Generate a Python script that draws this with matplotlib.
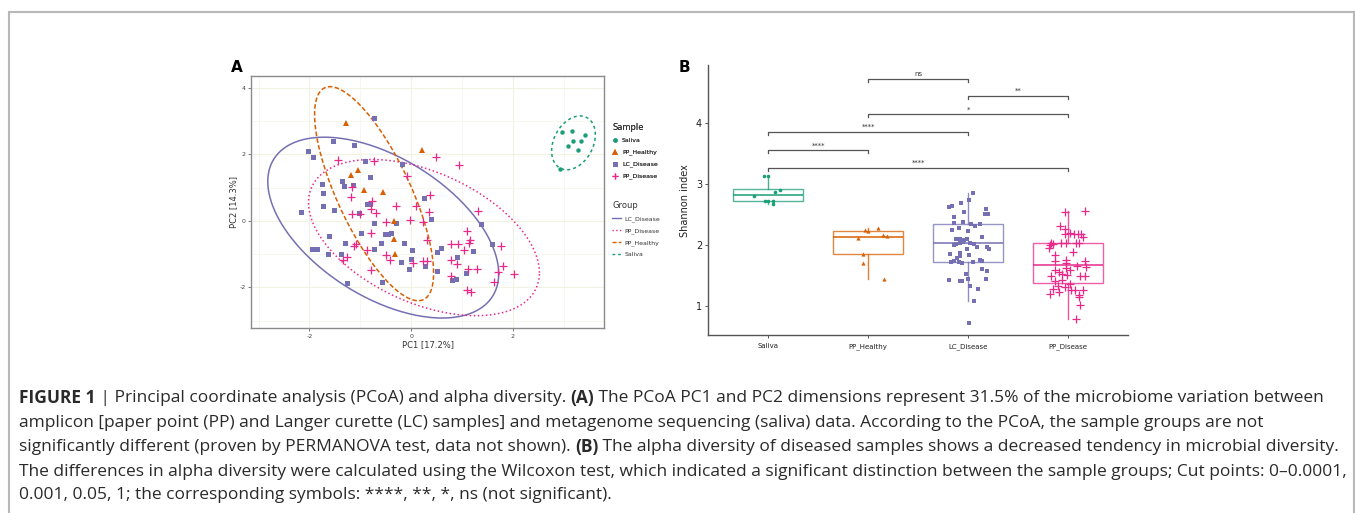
import numpy as np
import matplotlib
matplotlib.use('Agg')
import matplotlib.pyplot as plt
from matplotlib.lines import Line2D

plt.rcParams['axes.unicode_minus'] = False

# ---------------- data ----------------
groups = ['Saliva', 'PP_Healthy', 'LC_Disease', 'PP_Disease']
colors = {'Saliva': '#1B9E77', 'PP_Healthy': '#D95F02',
          'LC_Disease': '#7570B3', 'PP_Disease': '#E7298A'}

# Panel A: PCoA coordinates
saliva_pc1 = [2.97, 3.16, 3.42, 3.18, 3.33, 3.09, 3.28, 2.92]
saliva_pc2 = [2.69, 2.71, 2.59, 2.41, 2.41, 2.27, 2.13, 1.57]
pph_pc1 = [-1.28, 0.22, -1.18, -1.05, -0.93, -0.56, -0.34, -0.33, -0.31]
pph_pc2 = [2.94, 2.14, 1.39, 1.54, 0.92, 0.87, 0.00, -0.54, -0.99]
lc_pc1 = [-0.73, -1.53, -1.13, -2.03, -1.93, -0.90, -0.19, -0.81, -1.36, -1.76,
          -1.14, -1.33, -1.74, 0.25, -0.86, -0.81, -1.74, -1.52, -1.03, -0.74,
          -0.30, 0.38, 1.38, -2.17, -0.98, -0.52, -0.45, -0.39, -0.60, -0.15,
          -1.62, -1.30, -1.95, -1.85, -1.38, -0.73, 0.02, 0.58, 0.51, 1.21,
          1.59, -0.20, -0.01, 0.28, 0.50, 0.90, 1.07, 0.89, 0.80, -0.04,
          -1.26, -0.57, -1.64]
lc_pc2 = [3.09, 2.42, 2.29, 2.09, 1.91, 1.79, 1.71, 1.31, 1.19, 1.11,
          1.09, 1.04, 0.84, 0.69, 0.52, 0.52, 0.46, 0.32, 0.24, -0.05,
          -0.05, 0.06, -0.08, 0.26, -0.35, -0.39, -0.39, -0.36, -0.66, -0.66,
          -0.46, -0.65, -0.83, -0.84, -0.98, -0.84, -0.87, -0.80, -0.94, -0.91,
          -0.68, -1.23, -1.13, -1.36, -1.51, -1.08, -1.56, -1.74, -1.78, -1.44,
          -1.88, -1.83, -0.99]
ppd_pc1 = [0.48, 0.93, -1.44, -0.73, -0.09, -1.16, -1.19, 0.37, -0.78, -0.79,
           0.10, -0.29, -0.70, -1.17, -1.01, 0.34, 1.32, -0.49, -0.03, 0.23,
           -0.80, 0.31, 1.10, 0.79, 0.92, 1.13, 1.16, 1.77, -1.09, -1.12,
           -0.86, -0.49, -1.34, -1.27, -0.41, 0.23, 0.31, 0.03, 1.03, 0.79,
           0.90, 1.11, 1.30, 1.81, 1.71, 2.02, -0.80, 0.79, 1.62, 1.09, 1.17]
ppd_pc2 = [1.91, 1.69, 1.84, 1.79, 1.34, 1.01, 0.73, 0.79, 0.60, 0.37,
           0.46, 0.44, 0.24, 0.21, 0.22, 0.27, 0.29, -0.03, 0.04, -0.03,
           -0.35, -0.56, -0.31, -0.69, -0.69, -0.66, -0.58, -0.76, -0.69, -0.76,
           -0.88, -1.02, -1.17, -1.07, -1.18, -1.20, -1.20, -1.27, -0.88, -1.17,
           -1.29, -1.44, -1.44, -1.36, -1.54, -1.61, -1.47, -1.66, -1.84, -2.08, -2.14]

# Panel A: confidence ellipses (centre, half-extent in x / y, correlation)
ell_groups = ['LC_Disease', 'PP_Disease', 'PP_Healthy', 'Saliva']
ell_cx = [-0.55, 0.25, -0.73, 3.19]
ell_cy = [-0.20, -0.50, 0.82, 2.35]
ell_xhalf = [2.27, 2.27, 1.17, 0.43]
ell_yhalf = [2.72, 2.35, 3.22, 0.81]
ell_rho = [-0.51, -0.45, -0.74, 0.30]
ell_styles = ['-', ':', (0, (3, 1.5)), (0, (2, 2))]

# Panel B: Shannon index (jitter offset, value)
sal_dx = [-0.04, 0.0, 0.12, 0.07, -0.14, -0.03, 0.0, 0.05, 0.05]
sal_sh = [3.14, 3.14, 2.91, 2.87, 2.81, 2.72, 2.72, 2.73, 2.67]
pph_dx = [-0.10, -0.03, 0.0, 0.10, 0.15, 0.19, -0.05, -0.05, 0.16]
pph_sh = [2.12, 2.25, 2.24, 2.29, 2.17, 2.15, 1.86, 1.71, 1.44]
lc_dx = [0.05, 0.013, -0.067, -0.19, -0.16, -0.037, 0.177, -0.143, 0.173, 0.2,
         -0.143, -0.05, 0.027, 0.123, 0.07, -0.09, 0.0, -0.16, 0.143, -0.117,
         -0.077, -0.043, -0.01, -0.05, 0.023, -0.077, -0.12, -0.137, 0.063, 0.09,
         0.19, 0.207, -0.013, -0.177, -0.077, 0.007, 0.123, 0.14, -0.14, -0.087,
         -0.167, -0.06, 0.05, -0.113, 0.14, 0.19, -0.193, -0.083, -0.017, 0.0,
         -0.057, 0.183, 0.023, 0.097, 0.057, 0.007, -0.083]
lc_sh = [2.86, 2.74, 2.69, 2.63, 2.65, 2.55, 2.59, 2.47, 2.51, 2.51,
         2.36, 2.38, 2.35, 2.35, 2.31, 2.28, 2.24, 2.25, 2.13, 2.10,
         2.10, 2.09, 2.10, 2.05, 2.04, 2.03, 2.02, 2.00, 2.02, 1.98,
         1.98, 1.94, 1.94, 1.86, 1.88, 1.84, 1.76, 1.75, 1.74, 1.73,
         1.72, 1.71, 1.73, 1.80, 1.61, 1.58, 1.43, 1.42, 1.53, 1.45,
         1.41, 1.45, 1.33, 1.28, 1.09, 0.72, 1.83]
ppd_dx = [-0.033, 0.167, -0.083, -0.033, 0.017, 0.06, 0.1, 0.133, -0.027, 0.15,
          -0.173, -0.183, -0.15, -0.067, -0.017, 0.077, 0.11, -0.19, 0.05, -0.127,
          -0.02, -0.133, 0.167, -0.017, 0.09, 0.177, -0.127, -0.09, -0.023, 0.017,
          -0.167, -0.057, -0.01, 0.123, 0.167, -0.13, -0.06, 0.017, -0.1, -0.033,
          -0.15, 0.033, 0.15, 0.067, -0.18, -0.09, 0.107, 0.11, 0.117, 0.077]
ppd_sh = [2.54, 2.57, 2.31, 2.27, 2.20, 2.19, 2.19, 2.19, 2.19, 2.13,
          2.03, 2.01, 2.02, 2.03, 2.03, 2.03, 2.03, 1.95, 1.89, 1.84,
          1.76, 1.74, 1.74, 1.71, 1.66, 1.65, 1.60, 1.56, 1.62, 1.60,
          1.49, 1.53, 1.51, 1.50, 1.50, 1.41, 1.43, 1.37, 1.34, 1.32,
          1.28, 1.27, 1.27, 1.27, 1.21, 1.24, 1.19, 1.15, 1.02, 0.79]

# box statistics
box_q1 = [2.72, 1.86, 1.72, 1.38]
box_med = [2.82, 2.14, 2.03, 1.68]
box_q3 = [2.92, 2.23, 2.35, 2.04]
box_lo = [2.67, 1.44, 1.09, 0.80]
box_hi = [3.14, 2.29, 2.86, 2.57]

# significance brackets
br_left = [2, 3, 2, 1, 1, 1]
br_right = [3, 4, 4, 3, 2, 4]
br_y = [4.73, 4.45, 4.15, 3.86, 3.56, 3.27]
br_label = ['ns', '**', '*', '****', '****', '****']

caption_lines = [
    [("FIGURE 1", True), (" | Principal coordinate analysis (PCoA) and alpha diversity. ", False),
     ("(A)", True), (" The PCoA PC1 and PC2 dimensions represent 31.5% of the microbiome variation between", False)],
    [("amplicon [paper point (PP) and Langer curette (LC) samples] and metagenome sequencing (saliva) data. According to the PCoA, the sample groups are not", False)],
    [("significantly different (proven by PERMANOVA test, data not shown). ", False), ("(B)", True),
     (" The alpha diversity of diseased samples shows a decreased tendency in microbial diversity.", False)],
    [("The differences in alpha diversity were calculated using the Wilcoxon test, which indicated a significant distinction between the sample groups; Cut points: 0\u20130.0001,", False)],
    [("0.001, 0.05, 1; the corresponding symbols: ****, **, *, ns (not significant).", False)],
]

# ---------------- figure ----------------
W, H = 1355, 513
fig = plt.figure(figsize=(W / 100, H / 100), dpi=100)
fig.patch.set_facecolor('white')

def fax(l, t, r, b):
    return fig.add_axes([l / W, 1 - b / H, (r - l) / W, (b - t) / H])

# overlay for frame, letters, caption
ov = fig.add_axes([0, 0, 1, 1], zorder=-1)
ov.set_xlim(0, W); ov.set_ylim(H, 0); ov.axis('off')
ov.plot([9, 9, 1354, 1354], [H + 5, 12, 12, H + 5], color='#b8b8b8', lw=1.5,
        solid_joinstyle='miter')

# ---- Panel A ----
axA = fax(251, 75.7, 604, 328)
axA.set_xlim(-3.15, 3.79); axA.set_ylim(-3.22, 4.37)
axA.set_xticks([-2, 0, 2]); axA.set_yticks([-2, 0, 2, 4])
axA.set_xticks([-3, -1, 1, 3], minor=True); axA.set_yticks([-3, -1, 1, 3], minor=True)
axA.grid(True, which='major', color='#f1f1e4', lw=0.8)
axA.grid(True, which='minor', color='#f6f6ee', lw=0.6)
axA.set_axisbelow(True)
for s in axA.spines.values():
    s.set_color('#8a8a8a'); s.set_linewidth(1.0)
axA.tick_params(which='major', length=2, width=0.6, color='#666', labelsize=4.5,
                labelcolor='#444', pad=2)
axA.tick_params(which='minor', length=0)
axA.set_xlabel('PC1 [17.2%]', fontsize=6, color='#333', labelpad=1)
axA.set_ylabel('PC2 [14.3%]', fontsize=6, color='#333', labelpad=1)

t = np.linspace(0, 2 * np.pi, 300)
for g, cx, cy, a, b, r, ls in zip(ell_groups, ell_cx, ell_cy, ell_xhalf, ell_yhalf, ell_rho, ell_styles):
    ex = cx + a * np.cos(t)
    ey = cy + b * (r * np.cos(t) + np.sqrt(1 - r * r) * np.sin(t))
    axA.plot(ex, ey, color=colors[g], ls=ls, lw=1.1, zorder=2)

axA.plot(lc_pc1, lc_pc2, 's', color=colors['LC_Disease'], ms=3.6, mew=0, ls='none', zorder=3)
axA.plot(ppd_pc1, ppd_pc2, '+', color=colors['PP_Disease'], ms=6, mew=0.9, ls='none', zorder=3)
axA.plot(pph_pc1, pph_pc2, '^', color=colors['PP_Healthy'], ms=4.3, mew=0, ls='none', zorder=4)
axA.plot(saliva_pc1, saliva_pc2, 'o', color=colors['Saliva'], ms=3.2, mew=0, ls='none', zorder=4)

# legends for panel A
mk = {'Saliva': ('o', 3.2), 'PP_Healthy': ('^', 4.3), 'LC_Disease': ('s', 3.6), 'PP_Disease': ('+', 5)}
h1 = [Line2D([], [], marker=mk[g][0], ms=mk[g][1], color=colors[g], ls='none', mew=0.9 if g == 'PP_Disease' else 0)
      for g in groups]
leg1 = fig.legend(h1, groups, title='Sample', loc='upper left', bbox_to_anchor=(609 / W, 1 - 120 / H),
                  frameon=False, fontsize=4.5, title_fontsize=6, handlelength=1.0, handletextpad=0.6,
                  labelspacing=0.95, borderpad=0, alignment='left')
h2 = [Line2D([], [], color=colors[g], ls=ls, lw=1.0) for g, ls in zip(ell_groups, ell_styles)]
leg2 = fig.legend(h2, ell_groups, title='Group', loc='upper left', bbox_to_anchor=(609 / W, 1 - 198 / H),
                  frameon=False, fontsize=4.5, title_fontsize=6, handlelength=1.4, handletextpad=0.6,
                  labelspacing=0.95, borderpad=0, alignment='left')
for lg in (leg1, leg2):
    for tx in lg.get_texts():
        tx.set_color('#333')
    lg.get_title().set_color('#333')
fig.add_artist(leg1)

# ---- Panel B ----
axB = fax(708.3, 65, 1128, 335.3)
axB.set_xlim(0.4, 4.6); axB.set_ylim(0.525, 4.955)
for sp in ['top', 'right']:
    axB.spines[sp].set_visible(False)
for sp in ['left', 'bottom']:
    axB.spines[sp].set_color('#555'); axB.spines[sp].set_linewidth(1.0)
axB.set_xticks([1, 2, 3, 4]); axB.set_xticklabels(groups)
axB.set_yticks([1, 2, 3, 4])
axB.tick_params(axis='x', length=2.5, width=0.7, color='#555', labelsize=5, labelcolor='#222', pad=3)
axB.tick_params(axis='y', length=2.5, width=0.7, color='#555', labelsize=7, labelcolor='#222', pad=2)
axB.set_ylabel('Shannon index', fontsize=7, color='#222', labelpad=4)

stats = []
for i in range(4):
    stats.append(dict(q1=box_q1[i], med=box_med[i], q3=box_q3[i], whislo=box_lo[i], whishi=box_hi[i], fliers=[]))
bp = axB.bxp(stats, positions=[1, 2, 3, 4], widths=0.7, showfliers=False, showcaps=False,
             patch_artist=True, manage_ticks=False)
for i, g in enumerate(groups):
    c = colors[g]
    bp['boxes'][i].set(facecolor='white', linewidth=1.0)
    bp['boxes'][i].set_edgecolor(matplotlib.colors.to_rgba(c, 0.75))
    bp['medians'][i].set(color=c, linewidth=1.1)
    for w in bp['whiskers'][2 * i:2 * i + 2]:
        w.set(color=matplotlib.colors.to_rgba(c, 0.8), linewidth=1.0)

pos = {g: i + 1 for i, g in enumerate(groups)}
axB.plot(np.array(sal_dx) + pos['Saliva'], sal_sh, 'o', color=colors['Saliva'], ms=2.6, mew=0, ls='none', zorder=4)
axB.plot(np.array(pph_dx) + pos['PP_Healthy'], pph_sh, '^', color=colors['PP_Healthy'], ms=3.0, mew=0, ls='none', zorder=4)
axB.plot(np.array(lc_dx) + pos['LC_Disease'], lc_sh, 's', color=colors['LC_Disease'], ms=2.6, mew=0, ls='none', zorder=4)
axB.plot(np.array(ppd_dx) + pos['PP_Disease'], ppd_sh, '+', color=colors['PP_Disease'], ms=5.8, mew=0.9, ls='none', zorder=4)

for l, r, y, lab in zip(br_left, br_right, br_y, br_label):
    d = 0.05
    axB.plot([l, l, r, r], [y - d, y, y, y - d], color='#555', lw=0.9, zorder=3)
    axB.text((l + r) / 2, y + 0.03, lab, ha='center', va='bottom', fontsize=5, color='#333')

# ---- panel letters ----
ov.text(231, 68, 'A', fontsize=11, fontweight='bold', va='center', ha='left', color='black')
ov.text(679, 68, 'B', fontsize=11, fontweight='bold', va='center', ha='left', color='black')

# ---- caption ----
fig.canvas.draw()
renderer = fig.canvas.get_renderer()
cap_y = [398, 423, 447, 472, 495]
cap_font = 'Open Sans'
base = 10.0

def draw_caption(size, commit):
    widths = []
    for line, y in zip(caption_lines, cap_y):
        x = 19
        for txt, bold in line:
            tt = ov.text(x, y, txt, fontsize=size, fontfamily=cap_font,
                         fontweight='bold' if bold else 'normal', color='#2a2a2a',
                         va='center', ha='left')
            x += tt.get_window_extent(renderer).width
            if not commit:
                tt.remove()
        widths.append(x - 19)
    return widths

w0 = draw_caption(base, False)
# fit the three full lines (1, 3, 4) to their widths in the reference
size = base * (1316.0 + 1310.0 + 1318.0) / (w0[0] + w0[2] + w0[3])
draw_caption(size, True)

fig.savefig('out.png', dpi=100)
